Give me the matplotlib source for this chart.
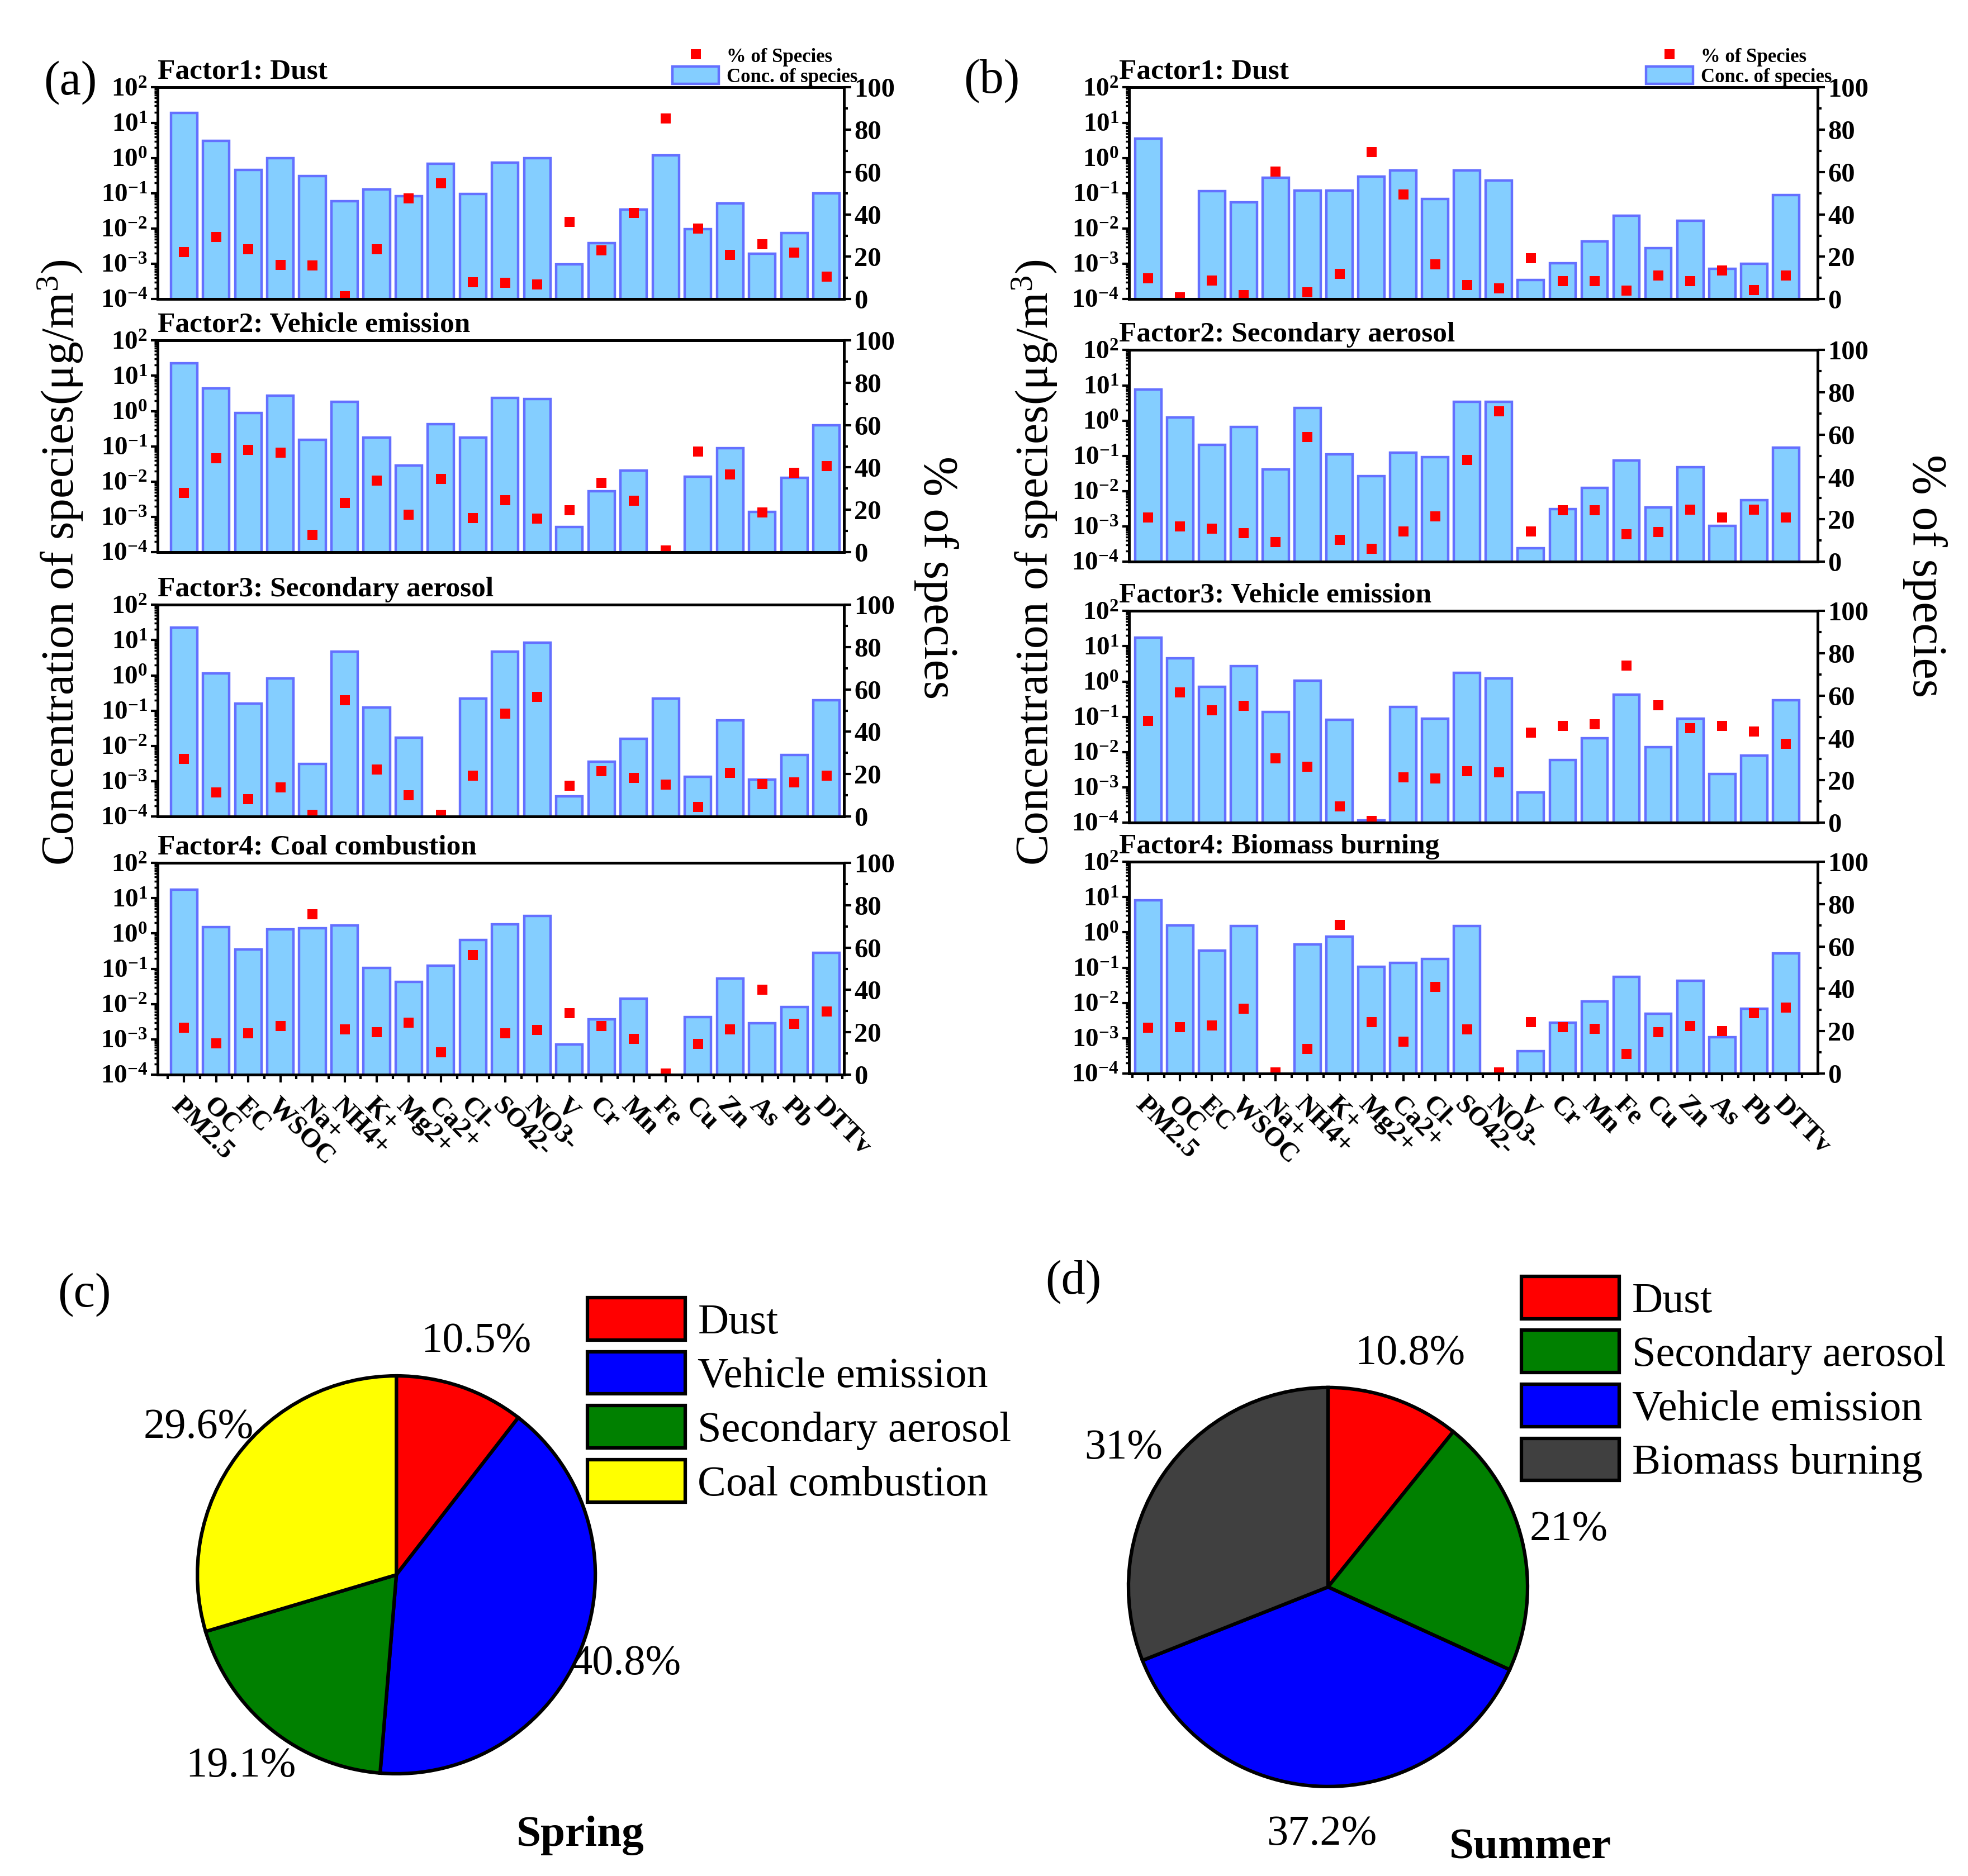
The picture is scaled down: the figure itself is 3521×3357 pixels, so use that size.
import numpy as np
import matplotlib
matplotlib.use("Agg")
import matplotlib.pyplot as plt
from matplotlib.ticker import FixedLocator, FuncFormatter, MultipleLocator, LogLocator, NullFormatter
from matplotlib.patches import Patch
from matplotlib.lines import Line2D

plt.rcParams['font.family'] = ['Liberation Serif', 'DejaVu Serif']
plt.rcParams['mathtext.fontset'] = 'custom'
plt.rcParams['mathtext.rm'] = 'Liberation Serif'
plt.rcParams['mathtext.it'] = 'Liberation Serif:italic'
plt.rcParams['mathtext.bf'] = 'Liberation Serif:bold'

species = ["PM2.5", "OC", "EC", "WSOC", "Na+", "NH4+", "K+", "Mg2+", "Ca2+", "Cl-", "SO42-",
           "NO3-", "V", "Cr", "Mn", "Fe", "Cu", "Zn", "As", "Pb", "DTTv"]

# (a) spring factor profiles: concentration (ug/m3) and % of species
spring_titles = ["Factor1: Dust", "Factor2: Vehicle emission",
                 "Factor3: Secondary aerosol", "Factor4: Coal combustion"]
spring_dust_conc = [18.9, 3.06, 0.454, 0.97, 0.31, 0.060, 0.128, 0.084, 0.69, 0.094, 0.74,
                    0.99, 0.00098, 0.0039, 0.0345, 1.2, 0.0096, 0.051, 0.0019, 0.0075, 0.10]
spring_dust_pct = [22.2, 29.4, 23.6, 16.2, 15.8, 1.3, 23.6, 47.6, 54.7, 8.0, 7.7,
                   6.8, 36.5, 23.0, 40.7, 85.2, 33.4, 20.9, 25.9, 22.0, 10.6]
spring_vehicle_conc = [22.9, 4.4, 0.885, 2.7, 0.152, 1.83, 0.178, 0.029, 0.43, 0.178, 2.38,
                       2.23, 0.00052, 0.0053, 0.0206, 0, 0.0139, 0.0898, 0.0014, 0.0127, 0.39]
spring_vehicle_pct = [28.0, 44.3, 48.4, 47.0, 8.1, 23.1, 33.9, 17.8, 34.7, 16.2, 24.5,
                      15.8, 19.9, 32.8, 24.4, 0.8, 47.6, 36.8, 18.8, 37.6, 40.6]
spring_secondary_conc = [22.8, 1.15, 0.158, 0.81, 0.0031, 4.69, 0.122, 0.0172, 0, 0.22, 4.8,
                         8.4, 0.00037, 0.0036, 0.0159, 0.22, 0.00134, 0.053, 0.0011, 0.0056, 0.194]
spring_secondary_pct = [27.3, 11.3, 8.3, 13.8, 0.9, 55.0, 22.1, 10.1, 0.7, 19.2, 48.5,
                        56.6, 14.6, 21.4, 18.3, 15.1, 4.6, 20.7, 15.3, 16.2, 19.2]
spring_coal_conc = [17.6, 1.53, 0.358, 1.31, 1.42, 1.70, 0.106, 0.0425, 0.123, 0.65, 1.82,
                    3.1, 0.00072, 0.0037, 0.0143, 0, 0.0042, 0.0525, 0.00286, 0.0081, 0.283]
spring_coal_pct = [22.2, 14.7, 19.5, 22.9, 75.8, 21.4, 20.1, 24.4, 10.5, 56.6, 19.4,
                   21.1, 28.9, 22.9, 16.9, 0.6, 14.5, 21.4, 40.2, 24.1, 29.7]

# (b) summer factor profiles
summer_titles = ["Factor1: Dust", "Factor2: Secondary aerosol",
                 "Factor3: Vehicle emission", "Factor4: Biomass burning"]
summer_dust_conc = [3.56, 0, 0.113, 0.0545, 0.28, 0.121, 0.121, 0.30, 0.446, 0.068, 0.446,
                    0.23, 0.000343, 0.00103, 0.0043, 0.0229, 0.00273, 0.0166, 0.00071, 0.001, 0.088]
summer_dust_pct = [9.9, 0.8, 8.8, 1.8, 60.3, 3.3, 11.9, 69.6, 49.4, 16.5, 6.6,
                   5.0, 19.3, 8.4, 8.4, 4.0, 11.1, 8.6, 13.6, 4.3, 11.1]
summer_secondary_conc = [7.7, 1.25, 0.206, 0.65, 0.041, 2.27, 0.111, 0.027, 0.124, 0.092, 3.4,
                         3.4, 0.000245, 0.0031, 0.0126, 0.0745, 0.0035, 0.047, 0.00104, 0.0055, 0.17]
summer_secondary_pct = [21.0, 16.7, 15.5, 13.4, 9.2, 58.9, 10.4, 6.2, 14.4, 21.5, 48.2,
                        71.0, 14.2, 24.4, 24.4, 13.0, 14.0, 24.7, 20.9, 24.5, 20.9]
summer_vehicle_conc = [17.6, 4.6, 0.72, 2.69, 0.136, 1.06, 0.083, 0.000116, 0.19, 0.09, 1.77,
                       1.23, 0.00072, 0.006, 0.0246, 0.43, 0.014, 0.0875, 0.0024, 0.0079, 0.30]
summer_vehicle_pct = [48.0, 61.6, 53.1, 55.2, 30.3, 26.5, 7.8, 0.7, 21.4, 20.9, 24.4,
                      23.9, 42.5, 45.8, 46.5, 74.2, 55.6, 44.6, 45.8, 43.0, 37.2]
summer_biomass_conc = [8.0, 1.6, 0.31, 1.49, 0, 0.45, 0.76, 0.105, 0.138, 0.177, 1.49,
                       0, 0.00043, 0.0028, 0.011, 0.055, 0.005, 0.043, 0.00105, 0.0068, 0.25]
summer_biomass_pct = [21.5, 21.9, 22.8, 30.5, 0.5, 11.6, 70.3, 24.2, 15.1, 41.0, 20.8,
                      0.5, 24.2, 21.9, 21.0, 9.3, 19.4, 22.4, 20.1, 28.5, 31.2]

# (c), (d) source contributions
spring_sources = ["Dust", "Vehicle emission", "Secondary aerosol", "Coal combustion"]
spring_share = [10.5, 40.8, 19.1, 29.6]
spring_share_labels = ["10.5%", "40.8%", "19.1%", "29.6%"]
spring_colors = ["#FF0000", "#0000FF", "#008000", "#FFFF00"]
summer_sources = ["Dust", "Secondary aerosol", "Vehicle emission", "Biomass burning"]
summer_share = [10.8, 21, 37.2, 31]
summer_share_labels = ["10.8%", "21%", "37.2%", "31%"]
summer_colors = ["#FF0000", "#008000", "#0000FF", "#404040"]

BAR_FACE = "#84CEFF"
BAR_EDGE = "#6470FF"

fig = plt.figure(figsize=(35.21, 33.57), dpi=100)

# axes rows in figure fraction
rows_a = [0.8406, 0.7057, 0.5648, 0.4272]
rows_b = [0.8406, 0.7006, 0.5615, 0.4278]
left_a, width_a = 0.0801, 0.3488
left_b, width_b = 0.5737, 0.3500
ht = 0.1128

x = np.arange(len(species))


def log_fmt(v, pos):
    return r"$\mathbf{10^{%d}}$" % int(round(np.log10(v)))


def factor_panel(rect, conc, pct, title, xlim, title_dx, bottom_row):
    ax = fig.add_axes(rect)
    conc = np.array(conc, dtype=float)
    pct = np.array(pct, dtype=float)
    ok = conc > 0
    ax.set_yscale("log")
    ax.bar(x[ok], conc[ok], width=0.82, color=BAR_FACE, edgecolor=BAR_EDGE, linewidth=3.2)
    ax.set_ylim(1e-4, 1e2)
    ax.set_xlim(*xlim)
    ax.yaxis.set_major_locator(LogLocator(base=10, numticks=10))
    ax.yaxis.set_minor_locator(LogLocator(base=10, subs=np.arange(2, 10), numticks=20))
    ax.yaxis.set_minor_formatter(NullFormatter())
    ax.yaxis.set_major_formatter(FuncFormatter(log_fmt))
    ax.tick_params(axis="y", which="major", labelsize=34, length=9, width=3, pad=4)
    ax.tick_params(axis="y", which="minor", length=4, width=2.5)
    for s in ax.spines.values():
        s.set_linewidth(3.4)

    ax2 = ax.twinx()
    ax2.plot(x, pct, linestyle="none", marker="s", markersize=12.5, color="#FF0000",
             markeredgewidth=0)
    ax2.set_ylim(0, 100)
    ax2.yaxis.set_major_locator(MultipleLocator(20))
    ax2.yaxis.set_minor_locator(MultipleLocator(10))
    ax2.tick_params(axis="y", which="major", labelsize=35, length=9, width=3, pad=4)
    ax2.tick_params(axis="y", which="minor", length=5, width=3)
    for lab in ax2.get_yticklabels() + ax.get_yticklabels():
        lab.set_fontweight("bold")
    for s in ax2.spines.values():
        s.set_linewidth(3.4)

    if bottom_row:
        ax.set_xticks(x)
        ax.xaxis.set_minor_locator(FixedLocator(np.arange(-0.5, len(species), 1.0)))
        ax.set_xticklabels(species, rotation=-45, ha="left", va="top",
                           rotation_mode="anchor", fontsize=35, fontweight="bold")
        ax.tick_params(axis="x", which="major", length=10, width=3, pad=14)
        ax.tick_params(axis="x", which="minor", length=6, width=3)
    else:
        ax.set_xticks([])
        ax.tick_params(axis="x", which="both", bottom=False, labelbottom=False)

    ax.text(title_dx, 1.012, title, transform=ax.transAxes, ha="left", va="bottom",
            fontsize=37, fontweight="bold")
    return ax


spring_conc = [spring_dust_conc, spring_vehicle_conc, spring_secondary_conc, spring_coal_conc]
spring_pct = [spring_dust_pct, spring_vehicle_pct, spring_secondary_pct, spring_coal_pct]
summer_conc = [summer_dust_conc, summer_secondary_conc, summer_vehicle_conc, summer_biomass_conc]
summer_pct = [summer_dust_pct, summer_secondary_pct, summer_vehicle_pct, summer_biomass_pct]

axes_a = []
for i in range(4):
    axes_a.append(factor_panel([left_a, rows_a[i], width_a, ht], spring_conc[i], spring_pct[i],
                               spring_titles[i], (-0.82, 20.55), 0.0, i == 3))
axes_b = []
for i in range(4):
    axes_b.append(factor_panel([left_b, rows_b[i], width_b, ht], summer_conc[i], summer_pct[i],
                               summer_titles[i], (-0.6, 21.0), -0.015, i == 3))

leg_handles = [Line2D([], [], linestyle="none", marker="s", markersize=12.5, color="#FF0000",
                      markeredgewidth=0),
               Patch(facecolor=BAR_FACE, edgecolor=BAR_EDGE, linewidth=3.2)]
leg_labels = ["% of Species", "Conc. of species"]
for ax in (axes_a[0], axes_b[0]):
    ax.legend(leg_handles, leg_labels, loc="lower right", bbox_to_anchor=(1.02, 1.005),
              frameon=False, prop={"size": 25, "weight": "bold"}, handlelength=2.4,
              handleheight=1.0, labelspacing=0.0, borderpad=0.0, borderaxespad=0.0,
              handletextpad=0.4)

ylab = r"Concentration of species($\mathrm{\mu g/m^3}$)"
fig.text(0.0308, 0.70, ylab, rotation=90, ha="center", va="center", fontsize=60)
fig.text(0.5257, 0.70, ylab, rotation=90, ha="center", va="center", fontsize=60)
fig.text(0.4757, 0.692, "% of species", rotation=-90, ha="center", va="center", fontsize=62)
fig.text(0.978, 0.693, "% of species", rotation=-90, ha="center", va="center", fontsize=62)

fig.text(0.0358, 0.9559, "(a)", ha="center", va="center", fontsize=62)
fig.text(0.5038, 0.957, "(b)", ha="center", va="center", fontsize=62)
fig.text(0.0429, 0.310, "(c)", ha="center", va="center", fontsize=62)
fig.text(0.5453, 0.3166, "(d)", ha="center", va="center", fontsize=62)


def share_pie(rect, share, labels, colors, names, leg_anchor, season, season_xy):
    ax = fig.add_axes(rect)
    wedges, texts = ax.pie(share, labels=labels, colors=colors, startangle=90,
                           counterclock=False, labeldistance=1.24,
                           wedgeprops={"edgecolor": "black", "linewidth": 4.5},
                           textprops={"fontsize": 55})
    for t in texts:
        t.set_ha("center")
        t.set_va("center")
    ax.set_xlim(-1.0, 1.0)
    ax.set_ylim(-1.0, 1.0)
    ax.set_aspect("equal")
    handles = [Patch(facecolor=c, edgecolor="black", linewidth=4.5) for c in colors]
    fig.legend(handles, names, loc="upper left", bbox_to_anchor=leg_anchor, frameon=False,
               fontsize=55, handlelength=2.28, handleheight=1.15, labelspacing=0.22,
               borderpad=0.0, borderaxespad=0.0, handletextpad=0.3)
    fig.text(season_xy[0], season_xy[1], season, ha="center", va="center", fontsize=57,
             fontweight="bold")


share_pie([0.1003, 0.0545, 0.2022, 0.2121], spring_share, spring_share_labels, spring_colors,
          spring_sources, (0.2986, 0.3083), "Spring", (0.2948, 0.0217))
share_pie([0.5734, 0.0477, 0.2028, 0.2127], summer_share, summer_share_labels, summer_colors,
          summer_sources, (0.7732, 0.3197), "Summer", (0.7776, 0.0149))

fig.savefig("out.png", dpi=100)
